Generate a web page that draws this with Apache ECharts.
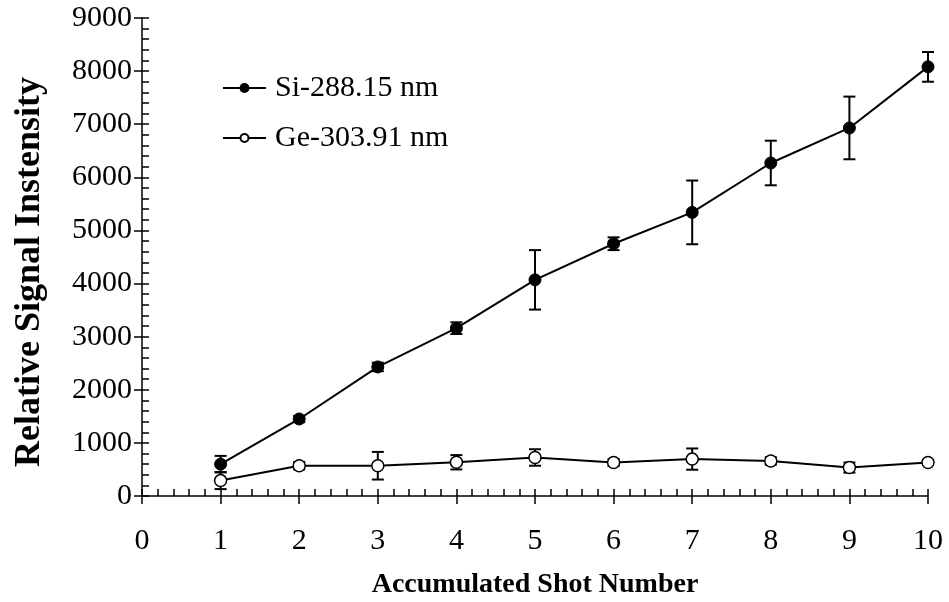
<!DOCTYPE html>
<html>
<head>
<meta charset="utf-8">
<title>Relative Signal Intensity vs Accumulated Shot Number</title>
<script src="https://cdn.jsdelivr.net/npm/echarts@6/dist/echarts.min.js"></script>
<style>
  html, body { margin: 0; padding: 0; background: #fff; }
  #chart { width: 949px; height: 602px; }
</style>
</head>
<body>
<div id="chart"></div>
<script>
// Accumulated shot numbers
const shots = [1, 2, 3, 4, 5, 6, 7, 8, 9, 10];

// Si 288.15 nm line: mean intensity and error (±)
const siValues = [600, 1450, 2430, 3160, 4070, 4750, 5340, 6270, 6930, 8080];
const siErrors = [155, 60, 80, 110, 560, 120, 600, 420, 590, 280];

// Ge 303.91 nm line: mean intensity and error (±)
const geValues = [290, 570, 570, 635, 725, 630, 695, 660, 535, 630];
const geErrors = [160, 70, 260, 135, 155, 65, 200, 70, 95, 40];

const siName = 'Si-288.15 nm';
const geName = 'Ge-303.91 nm';
const xTitle = 'Accumulated Shot Number';
const yTitle = 'Relative Signal Instensity';

const FONT = '"Liberation Serif", "Times New Roman", serif';

const pairs = (xs, ys) => xs.map((x, i) => [x, ys[i]]);
const bars = (xs, ys, es) => xs.map((x, i) => [x, ys[i] - es[i], ys[i] + es[i]]);

// Vertical error bar with caps at both ends
function renderErrorBar(params, api) {
  const x = api.value(0);
  const lo = api.coord([x, api.value(1)]);
  const hi = api.coord([x, api.value(2)]);
  const cap = 6;
  const style = { stroke: '#000', lineWidth: 2 };
  return {
    type: 'group',
    children: [
      { type: 'line', shape: { x1: hi[0], y1: hi[1], x2: lo[0], y2: lo[1] }, style },
      { type: 'line', shape: { x1: hi[0] - cap, y1: hi[1], x2: hi[0] + cap, y2: hi[1] }, style },
      { type: 'line', shape: { x1: lo[0] - cap, y1: lo[1], x2: lo[0] + cap, y2: lo[1] }, style }
    ]
  };
}

const chart = echarts.init(document.getElementById('chart'), null, { renderer: 'canvas' });

const axisLineStyle = { color: '#000', width: 1.5 };
const tickFont = { fontFamily: FONT, fontSize: 30, color: '#000' };

chart.setOption({
  animation: false,
  backgroundColor: '#fff',
  textStyle: { fontFamily: FONT, color: '#000' },
  grid: { left: 142, right: 21, top: 18, bottom: 106, containLabel: false, outerBoundsMode: 'none' },
  legend: {
    orient: 'vertical',
    left: 222,
    top: 73,
    padding: 0,
    itemWidth: 43,
    itemHeight: 10,
    itemGap: 20,
    data: [siName, geName],
    textStyle: { fontFamily: FONT, fontSize: 30, color: '#000', lineHeight: 30, padding: [0, 0, 0, 4] }
  },
  graphic: [
    {
      type: 'text',
      x: 30,
      y: 272,
      rotation: Math.PI / 2,
      style: {
        text: yTitle,
        font: 'bold 36px ' + FONT,
        fill: '#000',
        align: 'center',
        verticalAlign: 'middle'
      }
    }
  ],
  xAxis: [
    {
      type: 'value',
      min: 0, max: 10, interval: 1,
      position: 'bottom',
      name: xTitle,
      nameLocation: 'middle',
      nameGap: 75,
      nameTextStyle: { fontFamily: FONT, fontSize: 28, fontWeight: 'bold', color: '#000' },
      axisLine: { show: true, lineStyle: axisLineStyle },
      axisTick: { show: true, inside: true, length: 7, lineStyle: axisLineStyle },
      minorTick: { show: true, splitNumber: 5, length: 7, lineStyle: { color: '#000', width: 1.5 } },
      axisLabel: Object.assign({ margin: 30 }, tickFont),
      splitLine: { show: false }
    },
    {
      type: 'value',
      min: 0, max: 10, interval: 1,
      position: 'bottom',
      axisLine: { show: false },
      axisTick: { show: true, inside: false, length: 8, lineStyle: axisLineStyle },
      axisLabel: { show: false },
      splitLine: { show: false }
    }
  ],
  yAxis: [
    {
      type: 'value',
      min: 0, max: 9000, interval: 1000,
      position: 'left',
      axisLine: { show: true, lineStyle: axisLineStyle },
      axisTick: { show: true, inside: true, length: 7, lineStyle: axisLineStyle },
      minorTick: { show: true, splitNumber: 5, length: 7, lineStyle: { color: '#000', width: 1.5 } },
      axisLabel: Object.assign({ margin: 10, formatter: v => String(v) }, tickFont),
      splitLine: { show: false }
    },
    {
      type: 'value',
      min: 0, max: 9000, interval: 1000,
      position: 'left',
      axisLine: { show: false },
      axisTick: { show: true, inside: false, length: 8, lineStyle: axisLineStyle },
      axisLabel: { show: false },
      splitLine: { show: false }
    }
  ],
  series: [
    {
      type: 'custom',
      name: 'si-error',
      renderItem: renderErrorBar,
      data: bars(shots, siValues, siErrors),
      encode: { x: 0, y: [1, 2] },
      z: 1,
      silent: true
    },
    {
      type: 'custom',
      name: 'ge-error',
      renderItem: renderErrorBar,
      data: bars(shots, geValues, geErrors),
      encode: { x: 0, y: [1, 2] },
      z: 1,
      silent: true
    },
    {
      type: 'line',
      name: siName,
      data: pairs(shots, siValues),
      symbol: 'circle',
      symbolSize: 12,
      lineStyle: { color: '#000', width: 2 },
      itemStyle: { color: '#000', borderColor: '#000', borderWidth: 1 },
      z: 3
    },
    {
      type: 'line',
      name: geName,
      data: pairs(shots, geValues),
      symbol: 'circle',
      symbolSize: 12,
      lineStyle: { color: '#000', width: 2 },
      itemStyle: { color: '#fff', borderColor: '#000', borderWidth: 1.5 },
      z: 3
    }
  ]
});
</script>
</body>
</html>
